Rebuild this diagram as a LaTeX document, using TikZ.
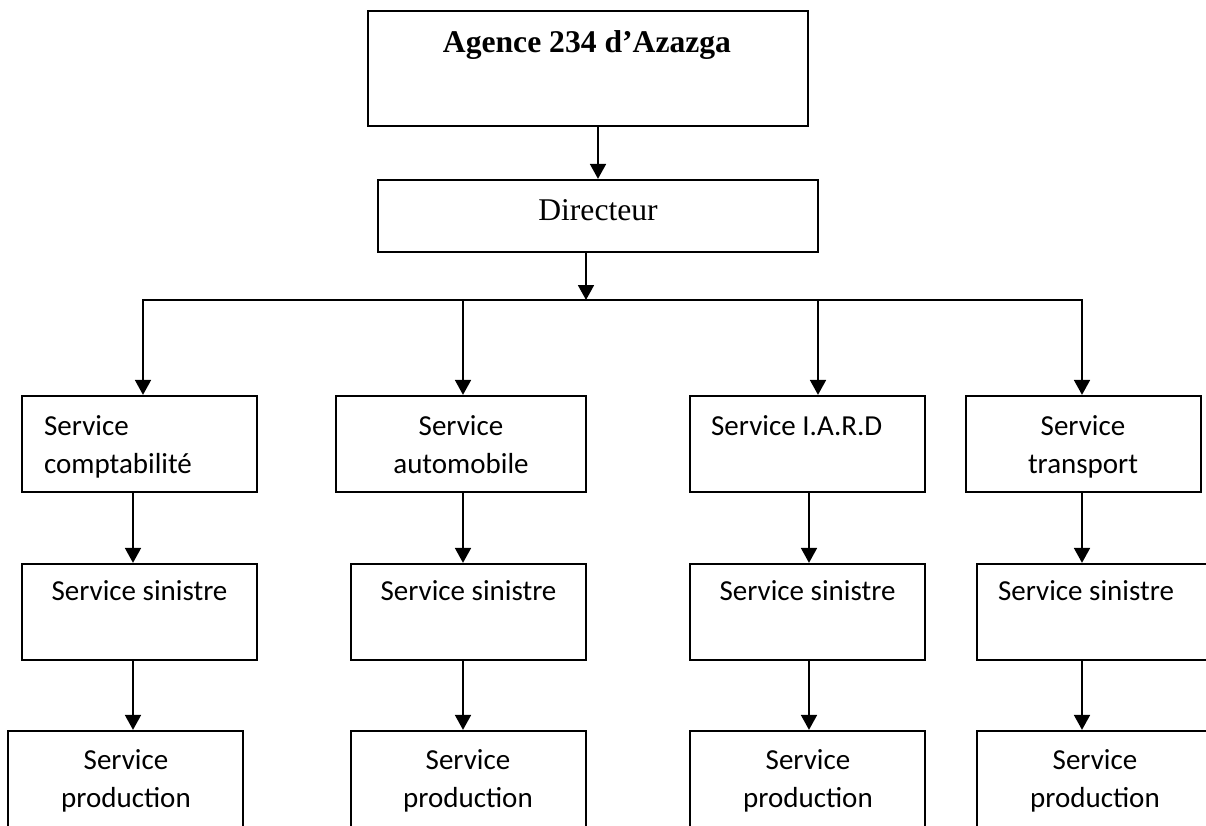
\documentclass[tikz,border=0pt]{standalone}
\usepackage{fontspec}
\setmainfont{Liberation Serif}
\newfontfamily\calibri{Carlito}
\usetikzlibrary{arrows.meta,positioning}

\begin{document}
\begin{tikzpicture}[x=0.02cm,y=-0.02cm,>={Triangle[width=9pt,length=8.5pt]},line width=1.3pt]
  \clip (0,0) rectangle (1206,825);
  \fill [white] (0,0) rectangle (1206,825);
  \tikzset{
    head/.style={rectangle,draw=black,inner sep=0pt,minimum width=8.8cm},
    unit/.style={rectangle,draw=black,inner sep=0pt,minimum width=4.7cm,minimum height=1.92cm},
    link/.style={->},
    % text styles
    titleText/.style={font=\bfseries\fontsize{18}{22}\selectfont,inner sep=0pt,anchor=base},
    dirText/.style={font=\fontsize{18}{22}\selectfont,inner sep=0pt,anchor=base},
    serviceText/.style={font=\calibri\fontsize{16.5}{21.5}\selectfont,inner sep=0pt,anchor=base,align=center}
  }

  %% Agence and Directeur
  \node [head, minimum height=2.3cm] (agence) at (588,68.5) {};
  \node [titleText] (agenceT) at (587,52) {Agence 234 d’Azazga};
  \node [head, minimum height=1.44cm] (dir) at (598,216) {};
  \node [dirText] (dirT) at (598,220) {Directeur};
  \draw [link] (agence.south -| dir.north) -- (dir.north);

  \coordinate (bus) at (586,300);
  \draw [link] (dir.south -| bus) -- (bus);
  \coordinate (drop1) at (143,300);
  \coordinate (drop2) at (463,300);
  \coordinate (drop3) at (818,300);
  \coordinate (drop4) at (1082,300);
  \draw [line cap=rect] (drop1) -- (drop4);

  %% Comptabilite
  \coordinate (col1) at (133,0);
  \node [unit] (compta) at (139.5,444) {};
  \node [serviceText, anchor=base west, align=left] (comptaT) at (43,473) {Service\\comptabilité};
  \draw [link] (drop1) -- (drop1 |- compta.north);
  \node [unit] (sin1) at (139.5,612) {};
  \node [serviceText] (sin1T) at (139.5,600) {Service sinistre};
  \draw [link] (compta.south -| col1) -- (sin1.north -| col1);
  \node [unit] (prod1) at (125.5,779) {};
  \node [serviceText] (prod1T) at (126,807) {Service\\production};
  \draw [link] (sin1.south -| col1) -- (prod1.north -| col1);

  %% Automobile
  \coordinate (col2) at (463,0);
  \node [unit, minimum width=5cm] (auto) at (461,444) {};
  \node [serviceText] (autoT) at (461,473) {Service\\automobile};
  \draw [link] (drop2) -- (drop2 |- auto.north);
  \node [unit] (sin2) at (468.5,612) {};
  \node [serviceText] (sin2T) at (468.5,600) {Service sinistre};
  \draw [link] (auto.south -| col2) -- (sin2.north -| col2);
  \node [unit] (prod2) at (468.5,779) {};
  \node [serviceText] (prod2T) at (468,807) {Service\\production};
  \draw [link] (sin2.south -| col2) -- (prod2.north -| col2);

  %% I.A.R.D
  \coordinate (col3) at (809,0);
  \node [unit] (iard) at (807.5,444) {};
  \node [serviceText, anchor=base west] (iardT) at (710,435) {Service I.A.R.D};
  \draw [link] (drop3) -- (drop3 |- iard.north);
  \node [unit] (sin3) at (807.5,612) {};
  \node [serviceText] (sin3T) at (807.5,600) {Service sinistre};
  \draw [link] (iard.south -| col3) -- (sin3.north -| col3);
  \node [unit] (prod3) at (807.5,779) {};
  \node [serviceText] (prod3T) at (808,807) {Service\\production};
  \draw [link] (sin3.south -| col3) -- (prod3.north -| col3);

  %% Transport
  \coordinate (col4) at (1082,0);
  \node [unit] (transp) at (1083.5,444) {};
  \node [serviceText] (transpT) at (1083,473) {Service\\transport};
  \draw [link] (drop4) -- (drop4 |- transp.north);
  \node [unit] (sin4) at (1094.5,612) {};
  \node [serviceText] (sin4T) at (1086,600) {Service sinistre};
  \draw [link] (transp.south -| col4) -- (sin4.north -| col4);
  \node [unit] (prod4) at (1094.5,779) {};
  \node [serviceText] (prod4T) at (1095,807) {Service\\production};
  \draw [link] (sin4.south -| col4) -- (prod4.north -| col4);
\end{tikzpicture}
\end{document}
